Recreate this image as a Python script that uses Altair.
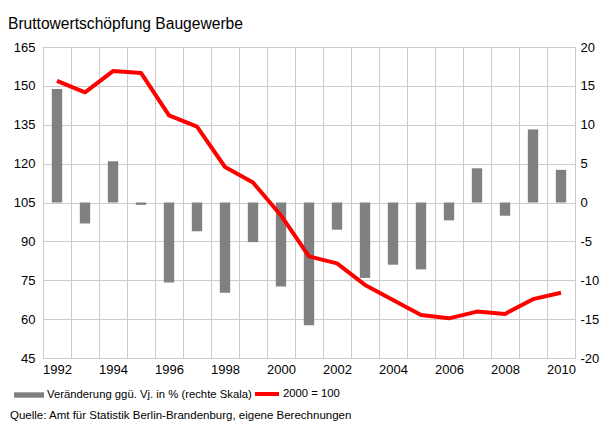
import altair as alt
import pandas as pd

years = list(range(1992, 2011))
index_2000 = [151.9, 147.5, 155.7, 155.0, 138.6, 134.3, 118.7, 112.7, 100.0, 84.2,
              81.5, 73.2, 67.4, 61.6, 60.3, 62.9, 62.0, 67.7, 70.2]
change_pct = [14.6, -2.7, 5.3, -0.3, -10.3, -3.7, -11.6, -5.1, -10.8, -15.8,
              -3.5, -9.7, -8.0, -8.6, -2.3, 4.4, -1.7, 9.4, 4.2]

bar_label = "Veränderung ggü. Vj. in % (rechte Skala)"
line_label = "2000 = 100"
title_text = "Bruttowertschöpfung Baugewerbe"
source_text = "Quelle: Amt für Statistik Berlin-Brandenburg, eigene Berechnungen"

df = pd.DataFrame({"Jahr": years, "Index": index_2000, "Veraenderung": change_pct})

FONT = "Liberation Sans"
GRID = "#cccccc"

x_enc = alt.X(
    "Jahr:O",
    scale=alt.Scale(paddingInner=0, paddingOuter=0),
    axis=alt.Axis(
        title=None, labelAngle=0, tickBand="extent", grid=True, gridColor=GRID,
        ticks=False, domain=False, labelPadding=5, labelFontSize=13,
        labelExpr="datum.value % 2 == 0 ? datum.label : ''",
    ),
)

bars = alt.Chart(df).mark_bar(width=alt.RelativeBandSize(0.37)).encode(
    x=x_enc,
    y=alt.Y(
        "Veraenderung:Q",
        scale=alt.Scale(domain=[-20, 20], nice=False),
        axis=alt.Axis(
            orient="right", title=None, values=list(range(-20, 21, 5)), grid=False,
            ticks=False, domain=False, labelAlign="left", labelPadding=5,
            labelFontSize=13, format="d",
            labelExpr="replace(datum.label, '\u2212', '-')",
        ),
    ),
    fill=alt.Fill(
        "s:N",
        scale=alt.Scale(domain=[bar_label], range=["#808080"]),
        legend=alt.Legend(
            title=None, orient="none", legendX=-29, legendY=333, padding=0,
            symbolType="M-1,-0.18H1V0.18H-1Z", symbolSize=900,
            symbolStrokeWidth=0, labelOffset=3, labelFontSize=11.3, labelFont=FONT,
            labelLimit=400,
        ),
    ),
).transform_calculate(s=f"'{bar_label}'")

line = alt.Chart(df).mark_line(strokeWidth=4, strokeJoin="round").encode(
    x=x_enc,
    y=alt.Y(
        "Index:Q",
        scale=alt.Scale(domain=[45, 165], nice=False, zero=False),
        axis=alt.Axis(
            title=None, values=list(range(45, 166, 15)), grid=True, gridColor=GRID,
            ticks=False, domain=False, labelPadding=8, labelFontSize=13,
        ),
    ),
    stroke=alt.Stroke(
        "s:N",
        scale=alt.Scale(domain=[line_label], range=["#ff0000"]),
        legend=alt.Legend(
            title=None, orient="none", legendX=210, legendY=333, padding=0,
            symbolType="stroke", symbolSize=576, symbolStrokeWidth=4,
            labelOffset=2, labelFontSize=11.3, labelFont=FONT, labelLimit=200,
        ),
    ),
).transform_calculate(s=f"'{line_label}'")

source = alt.Chart(pd.DataFrame({"t": [source_text]})).mark_text(
    align="left", baseline="middle", fontSize=11.5, font=FONT, color="#000000"
).encode(text="t:N", x=alt.value(-33), y=alt.value(369))

chart = (
    alt.layer(bars, line, source)
    .resolve_scale(y="independent", fill="independent", stroke="independent")
    .properties(
        width=532, height=311,
        autosize=alt.AutoSizeParams(type="none"),
        padding={"left": 35, "top": 39, "right": 27, "bottom": 66},
        title=alt.TitleParams(
            title_text, anchor="start", fontSize=15.6, fontWeight="normal", font=FONT,
            offset=8, dx=-2, color="#000000",
        ),
    )
    .configure_view(stroke="#bbbbbb", strokeWidth=1)
    .configure_axis(labelFont=FONT, labelColor="#000000")
    .configure_legend(labelColor="#000000")
)

chart.save("out.html", embed_options={"renderer": "svg", "actions": False})
